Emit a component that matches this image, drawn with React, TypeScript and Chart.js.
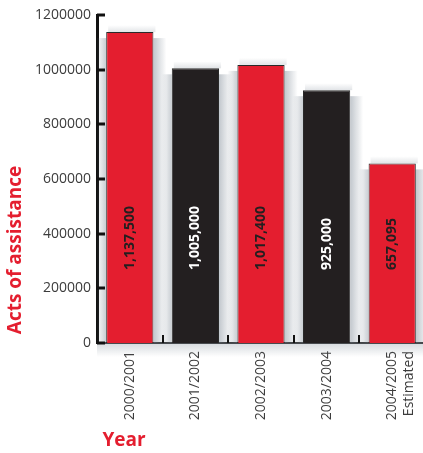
import React, { useEffect, useRef } from "react";
import { Chart, registerables } from "chart.js";

Chart.register(...registerables);

const categories: (string | string[])[] = ["2000/2001", "2001/2002", "2002/2003", "2003/2004", ["2004/2005", "Estimated"]];
const values = [1137500, 1005000, 1017400, 925000, 657095];
const valueLabels = ["1,137,500", "1,005,000", "1,017,400", "925,000", "657,095"];
const yTicks = [0, 200000, 400000, 600000, 800000, 1000000, 1200000];

const RED = "#e41e2f";
const BLACK = "#231f20";
const barColors = [RED, BLACK, RED, BLACK, RED];
const labelColors = [BLACK, "#ffffff", BLACK, "#ffffff", BLACK];
const FONT = "'Open Sans', 'Noto Sans', sans-serif";

function shadeStrip(ctx: any, x0: number, y0: number, x1: number, y1: number, horizontal: boolean, fromStart: boolean, alpha: number) {
  const g = horizontal
    ? ctx.createLinearGradient(x0, 0, x1, 0)
    : ctx.createLinearGradient(0, y0, 0, y1);
  const strong = `rgba(120,132,145,${alpha})`;
  const clear = "rgba(120,132,145,0)";
  g.addColorStop(0, fromStart ? strong : clear);
  g.addColorStop(1, fromStart ? clear : strong);
  ctx.fillStyle = g;
  ctx.fillRect(x0, y0, x1 - x0, y1 - y0);
}

const decorPlugin = {
  id: "decor",
  beforeDatasetsDraw(chart: any) {
    const ctx = chart.ctx;
    const { chartArea } = chart;
    const meta = chart.getDatasetMeta(0);
    ctx.save();
    const S = 10;
    meta.data.forEach((bar: any) => {
      const w = bar.width;
      const l = bar.x - w / 2;
      const r = bar.x + w / 2;
      const t = bar.y;
      const b = bar.base;
      shadeStrip(ctx, l - S, t + 6, l, b, true, false, 0.4);
      shadeStrip(ctx, r, t + 6, r + S + 3, b, true, true, 0.45);
      shadeStrip(ctx, l + 2, t - 7, r + 2, t, false, false, 0.22);
    });
    shadeStrip(ctx, chartArea.left, chartArea.bottom, chartArea.right, chartArea.bottom + 14, false, true, 0.3);
    ctx.restore();
  },
  afterDatasetsDraw(chart: any) {
    const ctx = chart.ctx;
    const { chartArea, scales } = chart;
    const y = scales.y;
    ctx.save();
    ctx.strokeStyle = "#111";
    ctx.lineWidth = 3;
    yTicks.forEach((v) => {
      const py = Math.round(y.getPixelForValue(v));
      ctx.beginPath();
      ctx.moveTo(chartArea.left, py);
      ctx.lineTo(chartArea.left + 8, py);
      ctx.stroke();
    });
    ctx.lineWidth = 2;
    const n = categories.length;
    const cw = (chartArea.right - chartArea.left) / n;
    for (let i = 1; i < n; i++) {
      const px = Math.round(chartArea.left + i * cw);
      ctx.beginPath();
      ctx.moveTo(px, chartArea.bottom);
      ctx.lineTo(px, chartArea.bottom - 8);
      ctx.stroke();
    }
    const meta = chart.getDatasetMeta(0);
    ctx.font = `bold 14px ${FONT}`;
    ctx.textBaseline = "middle";
    ctx.textAlign = "left";
    meta.data.forEach((bar: any, i: number) => {
      ctx.save();
      ctx.translate(bar.x, y.getPixelForValue(0) - 73);
      ctx.rotate(-Math.PI / 2);
      ctx.fillStyle = labelColors[i];
      ctx.fillText(valueLabels[i], 0, 0);
      ctx.restore();
    });
    ctx.restore();
  },
  afterDraw(chart: any) {
    const ctx = chart.ctx;
    ctx.save();
    ctx.fillStyle = RED;
    ctx.font = `bold 19px ${FONT}`;
    ctx.textAlign = "center";
    ctx.textBaseline = "middle";
    ctx.save();
    ctx.translate(16, 250);
    ctx.rotate(-Math.PI / 2);
    ctx.fillText("Acts of assistance", 0, 0);
    ctx.restore();
    ctx.fillText("Year", 124, 441);
    ctx.restore();
  },
};

export default function App() {
  const ref = useRef<HTMLCanvasElement>(null);
  useEffect(() => {
    document.body.style.margin = "0";
    document.body.style.overflow = "hidden";
    const chart = new Chart(ref.current!, {
      type: "bar",
      data: {
        labels: categories,
        datasets: [
          {
            data: values,
            backgroundColor: barColors,
            borderColor: "#2a2a2a",
            borderWidth: 1,
            barPercentage: 0.72,
            categoryPercentage: 1,
          },
        ],
      },
      options: {
        responsive: false,
        animation: false,
        layout: { padding: { top: 15, right: 0, left: 0, bottom: 0 } },
        plugins: { legend: { display: false }, tooltip: { enabled: false } },
        scales: {
          x: {
            grid: { display: false, drawTicks: false },
            border: { display: true, color: "#333", width: 2 },
            ticks: {
              color: "#3c3c3c",
              font: { family: FONT, size: 14 },
              minRotation: 90,
              maxRotation: 90,
              padding: 8,
            },
            afterFit: (s: any) => {
              s.height = 110;
              s.paddingLeft = 0;
              s.paddingRight = 0;
            },
          },
          y: {
            min: 0,
            max: 1200000,
            grid: { display: false, drawTicks: false },
            border: { display: true, color: "#111", width: 3 },
            ticks: {
              stepSize: 200000,
              color: "#3c3c3c",
              font: { family: FONT, size: 14 },
              padding: 6,
              callback: (v: any) => String(v),
            },
            afterFit: (s: any) => {
              s.width = 97;
              s.paddingTop = 0;
              s.paddingBottom = 0;
            },
          },
        },
      },
      plugins: [decorPlugin],
    });
    return () => chart.destroy();
  }, []);
  return (
    <div style={{ width: 423, height: 453, overflow: "hidden" }}>
      <canvas ref={ref} width={425} height={453} style={{ display: "block" }} />
    </div>
  );
}
